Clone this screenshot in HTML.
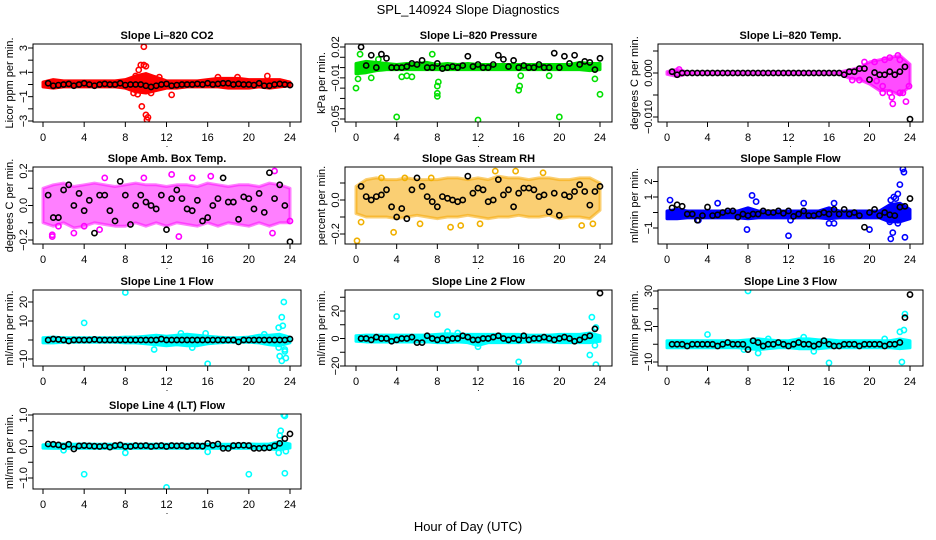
<!DOCTYPE html>
<html><head><meta charset="utf-8"><style>
body{margin:0;background:#fff}
svg{display:block;font-family:"Liberation Sans",sans-serif}
</style></head><body>
<svg id="c" width="936" height="540" viewBox="0 0 936 540">
<text x="468" y="14" text-anchor="middle" font-size="13">SPL_140924  Slope Diagnostics</text>
<text x="468" y="531" text-anchor="middle" font-size="13">Hour of Day (UTC)</text>
</svg>
<script>
const hours=[0,1,2,3,4,5,6,7,8,9,10,11,12,13,14,15,16,17,18,19,20,21,22,23,24];
const blackX=[0.5,1,1.5,2,2.5,3,3.5,4,4.5,5,5.5,6,6.5,7,7.5,8,8.5,9,9.5,10,10.5,11,11.5,12,12.5,13,13.5,14,14.5,15,15.5,16,16.5,17,17.5,18,18.5,19,19.5,20,20.5,21,21.5,22,22.5,23,23.5,24];
const xTicks=[0,4,8,12,16,20,24];

const co2Lo=[-0.2,-0.3,-0.2,-0.2,-0.2,-0.2,-0.2,-0.2,-0.3,-0.6,-0.7,-0.5,-0.3,-0.3,-0.2,-0.2,-0.2,-0.2,-0.3,-0.3,-0.3,-0.2,-0.3,-0.2,-0.1];
const co2Hi=[0.2,0.4,0.3,0.3,0.3,0.3,0.3,0.3,0.4,0.7,0.9,0.6,0.3,0.3,0.3,0.3,0.4,0.5,0.5,0.5,0.4,0.4,0.4,0.4,0.2];
const co2Out=[[9.8,3.1],[9.5,1.6],[9.8,1.6],[10,1.5],[9.3,1.2],[9.6,-1.8],[10,-2.5],[10.1,-2.9],[10.2,-2.7],[9.2,-0.8],[10.5,-0.7],[8.8,-0.7],[12.5,-0.85],[11.3,0.6],[10.8,0.5],[17,0.6],[18.9,0.6],[21.8,0.7],[9,0.7]];
const co2Black=[0.1,-0.1,-0.05,0,0.05,-0.1,0,0.1,0,-0.1,0,0.05,0,0,0.1,-0.05,0,0,0,-0.1,-0.2,-0.1,0,0.05,-0.1,-0.05,0,0,0,0.05,0,0.1,0,0.05,0.1,0.1,0,0.05,0,0,-0.05,0.1,-0.1,-0.1,0,0.05,0,-0.05];

const presLo=[-0.006,-0.005,-0.003,-0.002,-0.002,-0.002,-0.002,-0.002,-0.002,-0.002,-0.002,-0.002,-0.002,-0.002,-0.002,-0.002,-0.002,-0.002,-0.002,-0.002,-0.002,-0.002,-0.002,-0.003,-0.002];
const presHi=[0.004,0.006,0.005,0.004,0.003,0.004,0.004,0.005,0.003,0.004,0.003,0.004,0.003,0.003,0.003,0.003,0.003,0.003,0.003,0.003,0.003,0.003,0.005,0.004,0.004];
const presOut=[[0,-0.02],[0.2,-0.011],[0.4,0.013],[4,-0.048],[12,-0.051],[20,-0.048],[8,-0.028],[8,-0.025],[8,-0.018],[8.1,-0.014],[16,-0.022],[16.1,-0.018],[16.2,-0.008],[23.5,-0.011],[24,-0.026],[7.5,0.013],[1.5,-0.01],[4.5,-0.009],[5,-0.008],[5.5,-0.009],[2.2,0.008],[19,-0.008]];
const presBlack=[0.02,0.002,0.012,0,0.013,0.009,0,0,0,0.001,0.004,0.003,0.007,0,0,0.004,-0.001,0,0.001,0,0.002,0.011,0.001,0.003,0,0,0.003,0.012,0.008,0.001,0.007,0,0.002,0,0,0.003,0,0,0.014,0,0.011,0.004,0.012,0.003,0.006,0.005,-0.002,0.009];

const tempLo=[-0.0003,-0.0008,-0.0002,-0.0001,-0.0001,-0.0001,-0.0001,-0.0001,-0.0001,-0.0001,-0.0001,-0.0001,-0.0001,-0.0001,-0.0001,-0.0001,-0.0001,-0.0002,-0.0012,-0.0015,-0.0025,-0.004,-0.004,-0.005,-0.003];
const tempHi=[0.0003,0.0009,0.0002,0.0001,0.0001,0.0001,0.0001,0.0001,0.0001,0.0001,0.0001,0.0001,0.0001,0.0001,0.0001,0.0001,0.0001,0.0002,0.0007,0.0012,0.0025,0.003,0.0035,0.004,0.002];
const tempOut=[[1.2,0.0008],[18.3,-0.0016],[19,-0.0016],[19.5,0.0025],[20.5,0.0025],[21.5,0.003],[22,0.0035],[22.8,0.004],[23,0.003],[21.3,-0.003],[21.3,-0.0045],[22,-0.0045],[22.2,-0.0055],[22.3,-0.007],[23,-0.0045],[23.3,-0.0045],[23.6,-0.0065],[23.9,-0.003],[20.7,-0.0018],[23.5,0.0015]];
const tempBlack=[0.0003,-0.0004,0,0,0,0,0,0,0,0,0,0,0,0,0,0,0,0,0,0,0,0,0,0,0,0,0,0,0,0,0,0,0,0,-0.0004,0.0003,0.0003,0.001,0.001,-0.0015,0.0001,-0.0004,-0.0004,0.0003,-0.0004,0.0003,0.0014,-0.0105];

const ambLo=[-0.1,-0.12,-0.1,-0.13,-0.12,-0.1,-0.11,-0.12,-0.12,-0.1,-0.12,-0.1,-0.12,-0.1,-0.11,-0.12,-0.1,-0.12,-0.1,-0.11,-0.12,-0.1,-0.12,-0.1,-0.1];
const ambHi=[0.1,0.12,0.13,0.11,0.12,0.13,0.12,0.11,0.12,0.13,0.12,0.12,0.11,0.12,0.12,0.11,0.13,0.12,0.11,0.12,0.12,0.11,0.13,0.12,0.1];
const ambOut=[[0.9,-0.17],[0.9,-0.18],[12.5,0.18],[13.2,-0.18],[22.5,0.2],[6,0.16],[9.8,0.16],[14.5,0.16],[1.5,-0.12],[3,-0.16],[5.5,-0.14],[22.3,-0.16],[24,-0.09],[4,-0.12],[16.3,0.17]];
const ambBlack=[0.06,-0.07,-0.07,0.09,0.12,0,0.07,-0.03,0.03,-0.16,0.06,0.06,-0.03,-0.09,0.14,0.06,-0.11,0,0.06,0.02,0,-0.02,0.06,-0.14,0.04,0.09,0.04,-0.02,-0.03,0.03,-0.09,-0.07,0,0.04,0.16,0.02,0.02,-0.08,0.05,0.04,-0.02,0.07,-0.04,0.19,0.04,0.12,0,-0.21];

const rhLo=[-0.08,-0.1,-0.1,-0.1,-0.11,-0.1,-0.09,-0.1,-0.11,-0.1,-0.1,-0.09,-0.1,-0.11,-0.1,-0.1,-0.09,-0.1,-0.1,-0.09,-0.11,-0.1,-0.1,-0.11,-0.06];
const rhHi=[0.08,0.12,0.13,0.12,0.12,0.13,0.12,0.12,0.12,0.13,0.13,0.12,0.13,0.12,0.14,0.13,0.13,0.12,0.13,0.13,0.12,0.12,0.13,0.13,0.1];
const rhOut=[[0.1,-0.24],[0.5,-0.13],[3.7,-0.19],[7.4,0.13],[9.3,-0.16],[10.3,-0.15],[13.7,0.17],[15.7,0.17],[22.2,-0.15],[23.3,-0.14],[18.4,0.16],[2.5,0.13],[12.2,-0.14],[6.3,-0.14],[4.8,0.13]];
const rhBlack=[0.08,0.02,0,0.02,0.03,0.06,-0.04,-0.1,-0.05,-0.11,0.06,0.13,0.08,0.02,-0.01,-0.04,0.02,0.01,0,-0.01,0,0.14,0.04,0.07,0.06,-0.01,0,0.12,0.03,0.06,-0.04,0.04,0.07,0.07,0.06,0.02,0.03,-0.07,0.04,-0.09,0.03,0.02,0.05,0.09,0.05,-0.03,0.05,0.08];

const flowLo=[-0.4,-0.4,-0.35,-0.35,-0.35,-0.35,-0.35,-0.35,-0.4,-0.35,-0.35,-0.35,-0.35,-0.35,-0.35,-0.35,-0.4,-0.35,-0.35,-0.35,-0.35,-0.35,-0.6,-0.6,-0.4];
const flowHi=[0.1,0.2,0.1,0.1,0.1,0.1,0.1,0.1,0.3,0.1,0.1,0.1,0.1,0.1,0.1,0.1,0.3,0.1,0.1,0.1,0.1,0.1,0.5,0.6,0.2];
const flowOut=[[0.3,0.8],[5,0.6],[8.4,1.1],[8.8,0.7],[7.9,-1.1],[12,-1.5],[12.2,-0.5],[13.5,0.6],[16,-0.7],[16.5,-0.7],[20,-1.1],[22.1,-1.7],[22.3,-1.3],[22.1,0.8],[22.4,1],[22.6,0.9],[22.8,1.2],[23,1.8],[23.3,2.8],[23.4,2.6],[23.5,-1.6],[22,-0.6],[22.8,-0.7],[22.8,-0.5],[16.5,0.6],[3.1,-0.5]];
const flowBlack=[0.3,0.5,0.4,-0.1,-0.1,-0.5,-0.2,0.35,-0.2,-0.15,0,0.1,0.1,-0.3,-0.1,-0.2,-0.1,-0.1,0.1,0,0,0.1,-0.05,0.1,-0.25,-0.1,0.1,-0.2,-0.2,-0.1,0,-0.1,0.2,-0.1,0.2,-0.1,0,-0.2,-0.95,0,0.2,-0.2,0,-0.15,-0.2,0.35,0.4,0.9];

const l1Lo=[-1.5,-1.5,-1.2,-1.2,-1.2,-1.2,-1.2,-1.2,-1.5,-1.5,-2,-2.5,-3,-2.5,-3,-3,-2,-1.5,-1.2,-1.2,-1.2,-1.5,-2.5,-3,-1.5];
const l1Hi=[1.2,1.5,1.2,1.2,1.2,1.2,1.2,1.2,1.5,1.5,2,2.5,2,2.5,3,2.5,2,1.5,1.2,1.2,1.5,2.5,2.5,3,1.5];
const l1Out=[[8,25],[4,9],[16,-12.5],[22.9,6.5],[23.2,12],[23.4,20],[23.3,7.5],[22.9,-4],[23,-8.5],[23.2,-11],[23.5,-5],[23.6,-9.5],[23.5,-6],[10.8,-5],[14.5,-4],[15.8,3.5],[13.4,3.5],[21.5,3]];
const l1Black=[0,0.5,0.3,0,-0.5,0,0,0,0,0.3,0,0,0,0,0,0,0,0,0,0,0,0,0.5,0,0,0,0,0,0,0,0,0,0,0,0,0,0,-1,0,0,0,0,0,0,0,0,0,0.5];

const l2Lo=[-2,-2.5,-2.5,-2.5,-2.5,-2.5,-2.5,-2.5,-3,-3,-2.5,-3,-5,-3,-3,-3,-3,-2.5,-2.5,-2.5,-3,-3,-3,-3,-2];
const l2Hi=[2,2.5,2.5,2.5,2.5,2.5,2.5,2.5,3,3.5,3,3,3,3,3,3,3,2.5,2.5,2.5,3,3,3,4,2];
const l2Out=[[4,16],[8,17.5],[16,-17],[23.2,15.5],[23,-12],[23.6,-19],[23.6,8],[23.5,-5],[12,-6],[9,5],[10,4]];
const l2Black=[0,0,-1,1,0,0,-2,-1,0,0,1,-3,-3,2,0,-1,0,-1,0,0,2,1,-1,-1,0,0,1,2,0,-1,0,-1,2,-1,0,0,1,0,-1,0,1,0,-2,-1,1,2,7,33];

const l3Lo=[-2,-2,-2,-2,-2,-2,-2,-2,-2.5,-3,-2.5,-2,-2,-2.5,-2.5,-2.5,-2,-2,-2,-2,-2,-2,-2,-2.5,-2];
const l3Hi=[2,2,2,2,2,2,2,2,2.5,3,2.5,2,2,3,3,2.5,2.5,2,2,2,2,2,2,3,2];
const l3Out=[[8,30],[4,5.5],[16,-10.5],[23.2,-10],[23.5,17],[23,7],[23.4,8],[9,-5],[7.6,-3],[21.5,3],[14.5,-4],[10,3],[13.5,4]];
const l3Black=[0,0,0,-1,0,0,0,0,0,-1,0,1,0,0,0,-3,2,1,-1,0,0,1,0,-1,0,1,0,0,-1,0,2,0,-1,-1,0,0,0,-1,0,0,0,0,-1,0,0,1,15,28];

const l4Lo=[-0.05,-0.06,-0.06,-0.06,-0.06,-0.06,-0.06,-0.06,-0.06,-0.06,-0.06,-0.06,-0.06,-0.06,-0.06,-0.06,-0.06,-0.06,-0.06,-0.06,-0.06,-0.06,-0.08,-0.1,-0.05];
const l4Hi=[0.05,0.08,0.08,0.07,0.08,0.07,0.07,0.07,0.07,0.07,0.07,0.07,0.07,0.07,0.07,0.07,0.07,0.07,0.07,0.07,0.08,0.07,0.08,0.15,0.08];
const l4Out=[[4,-0.88],[12,-1.3],[20,-0.88],[23.5,-0.85],[23.4,1],[23.5,0.97],[23.1,0.5],[23,0.35],[8,-0.2],[16,-0.17],[23.3,0.1],[23.6,-0.15],[2,-0.12],[22.9,-0.2]];
const l4Black=[0.08,0.07,0.05,0,0.07,-0.08,0.02,0.03,0.02,0.01,0,0.02,-0.02,0.03,0.05,0,0,0.03,0.02,0.03,0,0.02,0.03,0,0.03,0.02,0.03,0,0.03,0.02,0.01,0.1,0.04,0.08,-0.06,-0.06,0.03,0.04,0.04,0.03,-0.06,-0.06,-0.05,-0.04,0.02,0.1,0.25,0.4];

const cols=[{l:33,r:301,x0:43,x24:290},{l:345,r:612,x0:356,x24:600},{l:658,r:923,x0:667,x24:910}];
const rows=[{t:44,b:122},{t:167,b:244},{t:290,b:366},{t:414,b:489}];
const panels=[
 {c:0,r:0,name:'co2',title:'Slope Li\u2013820 CO2',ylab:'Licor ppm per min.',col:'#ff0000',v1:3,p1:48,v2:-3,p2:121,ticks:[3,2,1,0,-1,-2,-3],labs:[[3,'3'],[1,'1'],[-1,'\u22121'],[-3,'\u22123']],lo:co2Lo,hi:co2Hi,out:co2Out,blk:co2Black},
 {c:1,r:0,name:'pressure',title:'Slope Li\u2013820 Pressure',ylab:'kPa per min.',col:'#00e000',v1:0.02,p1:47,v2:-0.05,p2:119,ticks:[0.02,0.01,0,-0.01,-0.02,-0.03,-0.04,-0.05],labs:[[0.02,'0.02'],[-0.01,'\u22120.01'],[-0.05,'\u22120.05']],lo:presLo,hi:presHi,out:presOut,blk:presBlack},
 {c:2,r:0,name:'temp',title:'Slope Li\u2013820 Temp.',ylab:'degrees C per min.',col:'#ff00ff',v1:0,p1:73,v2:-0.01,p2:117,ticks:[0.005,0,-0.005,-0.01],labs:[[0,'0.000'],[-0.01,'\u22120.010']],lo:tempLo,hi:tempHi,out:tempOut,blk:tempBlack,op:0.7},
 {c:0,r:1,name:'amb-box-temp',title:'Slope Amb. Box Temp.',ylab:'degrees C per min.',col:'#ff00ff',v1:0.2,p1:171,v2:-0.2,p2:240,ticks:[0.2,0.1,0,-0.1,-0.2],labs:[[0.2,'0.2'],[0,'0.0'],[-0.2,'\u22120.2']],lo:ambLo,hi:ambHi,out:ambOut,blk:ambBlack,op:0.5},
 {c:1,r:1,name:'gas-stream-rh',title:'Slope Gas Stream RH',ylab:'percent per min.',col:'#f5a800',v1:0,p1:200,v2:-0.2,p2:234,ticks:[0.1,0,-0.1,-0.2],labs:[[0,'0.0'],[-0.2,'\u22120.2']],lo:rhLo,hi:rhHi,out:rhOut,blk:rhBlack,op:0.55,oc:'#f0b000'},
 {c:2,r:1,name:'sample-flow',title:'Slope Sample Flow',ylab:'ml/min per min.',col:'#0000ff',v1:1,p1:197,v2:-1,p2:228,ticks:[2,1,0,-1],labs:[[2,'2'],[1,'1'],[-1,'\u22121']],lo:flowLo,hi:flowHi,out:flowOut,blk:flowBlack},
 {c:0,r:2,name:'line1-flow',title:'Slope Line 1 Flow',ylab:'ml/min per min.',col:'#00ffff',v1:20,p1:302,v2:-10,p2:359,ticks:[20,10,0,-10],labs:[[20,'20'],[10,'10'],[-10,'\u221210']],lo:l1Lo,hi:l1Hi,out:l1Out,blk:l1Black},
 {c:1,r:2,name:'line2-flow',title:'Slope Line 2 Flow',ylab:'ml/min per min.',col:'#00ffff',v1:20,p1:311,v2:-20,p2:366,ticks:[30,20,10,0,-10,-20],labs:[[20,'20'],[0,'0'],[-20,'\u221220']],lo:l2Lo,hi:l2Hi,out:l2Out,blk:l2Black},
 {c:2,r:2,name:'line3-flow',title:'Slope Line 3 Flow',ylab:'ml/min per min.',col:'#00ffff',v1:30,p1:291,v2:-10,p2:362,ticks:[30,20,10,0,-10],labs:[[30,'30'],[10,'10'],[-10,'\u221210']],lo:l3Lo,hi:l3Hi,out:l3Out,blk:l3Black},
 {c:0,r:3,name:'line4-flow',title:'Slope Line 4 (LT) Flow',ylab:'ml/min per min.',col:'#00ffff',v1:1,p1:415,v2:-1,p2:478,ticks:[1,0.5,0,-0.5,-1],labs:[[1,'1.0'],[0,'0.0'],[-1,'\u22121.0']],lo:l4Lo,hi:l4Hi,out:l4Out,blk:l4Black}
];
const NS='http://www.w3.org/2000/svg';
const svg=document.getElementById('c');
function mk(tag,attrs,parent){const e=document.createElementNS(NS,tag);for(const k in attrs)e.setAttribute(k,attrs[k]);(parent||svg).appendChild(e);return e;}
panels.forEach(p=>{
 const C=cols[p.c],R=rows[p.r];
 const xs=h=>C.x0+(C.x24-C.x0)*h/24;
 const ys=v=>p.p1+(v-p.v1)*(p.p2-p.p1)/(p.v2-p.v1);
 const g=mk('g',{});
 
 
 const clip=mk('clipPath',{id:'clip-'+p.name},g);
 mk('rect',{x:C.l,y:R.t,width:C.r-C.l,height:R.b-R.t},clip);
 const data=mk('g',{'clip-path':'url(#clip-'+p.name+')'},g);
 let pts=hours.map((h,i)=>xs(h)+','+ys(p.hi[i]));
 pts=pts.concat(hours.slice().reverse().map((h,j)=>xs(h)+','+ys(p.lo[hours.length-1-j])));
 const band=mk('polygon',{points:pts.join(' '),fill:p.col,stroke:p.col,'stroke-width':3,'stroke-linejoin':'round','fill-opacity':p.op||1,'stroke-opacity':p.op||1},data);
 
 
 p.out.forEach(d=>{
  const c=mk('circle',{cx:xs(d[0]),cy:ys(d[1]),r:2.6,fill:'none',stroke:p.oc||p.col,'stroke-width':1.6},data);
  
  
 });
 p.blk.forEach((v,i)=>{
  const c=mk('circle',{cx:xs(blackX[i]),cy:ys(v),r:2.6,fill:'none',stroke:'#000','stroke-width':1.6},data);
  
  
 });
 const box=mk('rect',{x:C.l,y:R.t,width:C.r-C.l,height:R.b-R.t,fill:'none',stroke:'#000','stroke-width':1},g);
 
 
 const t=mk('text',{x:(C.l+C.r)/2,y:R.t-5,'text-anchor':'middle','font-size':11,'font-weight':'bold'},g);
 t.textContent=p.title;
 
 
 xTicks.forEach(h=>{
  mk('line',{x1:xs(h),x2:xs(h),y1:R.b,y2:R.b+5,stroke:'#000'},g);
  const tl=mk('text',{x:xs(h),y:R.b+19,'text-anchor':'middle','font-size':11},g);
  tl.textContent=h;
  
  
 });
 const dot=mk('text',{x:(C.l+C.r)/2,y:R.b+25,'text-anchor':'middle','font-size':9},g);
 dot.textContent='.';
 p.ticks.forEach(v=>{mk('line',{x1:C.l-5,x2:C.l,y1:ys(v),y2:ys(v),stroke:'#000'},g);});
 p.labs.forEach(a=>{
  const yl=mk('text',{x:C.l-6,y:ys(a[0]),'text-anchor':'middle','font-size':11,transform:'rotate(-90 '+(C.l-6)+' '+ys(a[0])+')'},g);
  yl.textContent=a[1];
  
  
 });
 const my=(R.t+R.b)/2,ax=C.l-20;
 const yt=mk('text',{x:ax,y:my,'text-anchor':'middle','font-size':11,transform:'rotate(-90 '+ax+' '+my+')'},g);
 yt.textContent=p.ylab;
 
 
});
</script>
</body></html>
